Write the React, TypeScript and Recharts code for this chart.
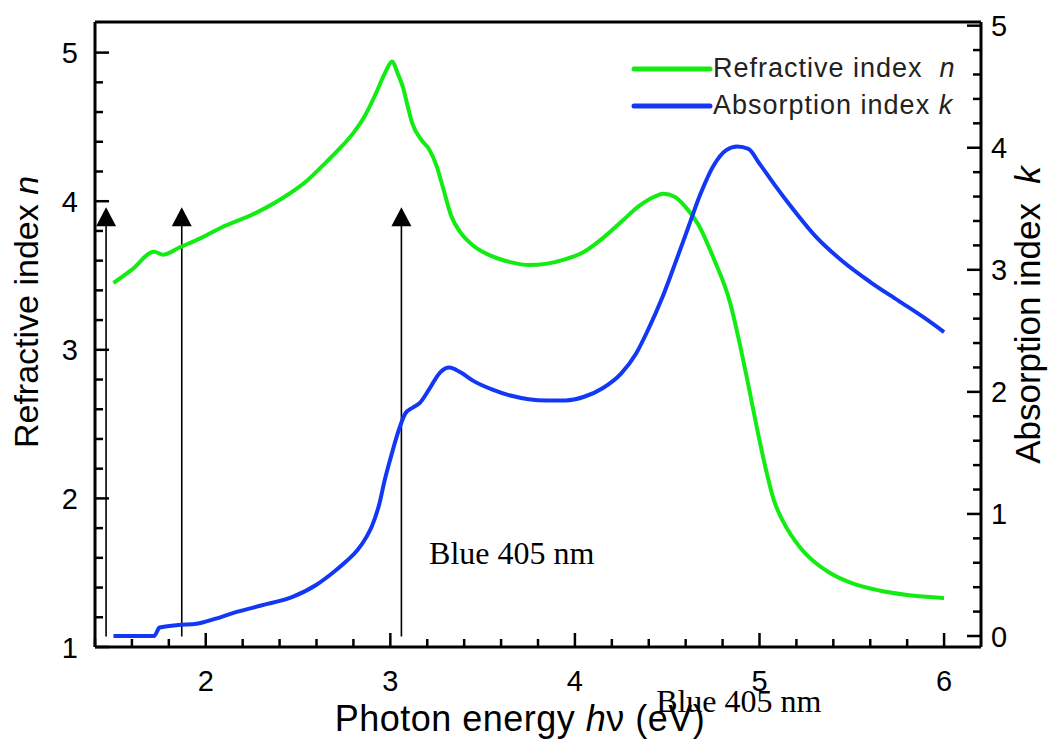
import React from "react";
import { ComposedChart, Line, XAxis, YAxis, ReferenceLine, ReferenceDot, Legend } from "recharts";

// photon energy (eV) and refractive index n
const energyN = [
  1.5, 1.6, 1.72, 1.77, 1.86, 1.97, 2.08, 2.27, 2.44, 2.55, 2.65, 2.73, 2.8, 2.86, 2.92, 2.97, 3.01,
  3.04, 3.07, 3.09, 3.12, 3.17, 3.21, 3.25, 3.29, 3.33, 3.38, 3.45, 3.55, 3.65, 3.75, 3.85, 3.95,
  4.05, 4.15, 4.25, 4.35, 4.43, 4.48, 4.54, 4.6, 4.67, 4.75, 4.84, 4.9, 4.94, 4.99, 5.03, 5.08,
  5.13, 5.22, 5.3, 5.38, 5.5, 5.65, 5.8, 6.0,
];
const refractiveN = [
  3.45, 3.54, 3.66, 3.64, 3.69, 3.75, 3.82, 3.92, 4.04, 4.14, 4.26, 4.36, 4.46, 4.57, 4.72, 4.86, 4.94,
  4.86, 4.76, 4.66, 4.52, 4.41, 4.35, 4.24, 4.07, 3.9, 3.79, 3.7, 3.63, 3.59, 3.57, 3.58, 3.61,
  3.66, 3.75, 3.86, 3.97, 4.03, 4.05, 4.03, 3.96, 3.84, 3.62, 3.32, 3.0, 2.76, 2.45, 2.22, 1.98,
  1.84, 1.67, 1.57, 1.5, 1.43, 1.38, 1.35, 1.33,
];

// photon energy (eV) and absorption index k
const energyK = [
  1.5, 1.72, 1.75, 1.85, 1.95, 2.05, 2.15, 2.3, 2.47, 2.6, 2.69, 2.76, 2.82, 2.87, 2.9, 2.94, 2.97,
  3.0, 3.04, 3.08, 3.12, 3.16, 3.21, 3.27, 3.32, 3.38, 3.45, 3.55, 3.65, 3.75, 3.85, 3.95, 4.05,
  4.15, 4.25, 4.33, 4.4, 4.47, 4.54, 4.61, 4.68, 4.75, 4.82, 4.88, 4.94, 5.0, 5.08, 5.18, 5.3,
  5.45, 5.6, 5.75, 5.9, 6.0,
];
const absorptionK = [
  0.0, 0.0, 0.07, 0.09, 0.1, 0.14, 0.19, 0.25, 0.32, 0.42, 0.52, 0.61, 0.7, 0.81, 0.9, 1.08, 1.28,
  1.45, 1.66, 1.82, 1.87, 1.91, 2.02, 2.16, 2.2, 2.16, 2.09, 2.02, 1.97, 1.94, 1.93, 1.93, 1.96,
  2.03, 2.15, 2.31, 2.52, 2.76, 3.04, 3.33, 3.62, 3.85, 3.98, 4.01, 3.99, 3.87, 3.7, 3.5, 3.28,
  3.07, 2.9, 2.75, 2.6, 2.49,
];

const xTicks = [
  1.4, 1.6, 1.8, 2, 2.2, 2.4, 2.6, 2.8, 3, 3.2, 3.4, 3.6, 3.8, 4, 4.2, 4.4, 4.6, 4.8, 5, 5.2, 5.4,
  5.6, 5.8, 6,
];
const nTicks = [1, 1.2, 1.4, 1.6, 1.8, 2, 2.2, 2.4, 2.6, 2.8, 3, 3.2, 3.4, 3.6, 3.8, 4, 4.2, 4.4, 4.6, 4.8, 5];
const kTicks = [0, 0.2, 0.4, 0.6, 0.8, 1, 1.2, 1.4, 1.6, 1.8, 2, 2.2, 2.4, 2.6, 2.8, 3, 3.2, 3.4, 3.6, 3.8, 4, 4.2, 4.4, 4.6, 4.8, 5];

// vertical arrows (energy, from n=base up to n=tip)
const arrowEnergies = [1.46, 1.87, 3.06];
const arrowBase = 1.07;
const arrowTip = 3.96;

// "Blue 405 nm" annotations
const noteEnergies = [3.21, 4.44];
const noteLevels = [1.56, 0.56];
const noteText = "Blue 405 nm";

const legendNames = ["Refractive index  ", "Absorption index "];
const legendSymbols = ["n", "k"];
const GREEN = "#12ec12";
const BLUE = "#1238f5";
const legendColors = [GREEN, BLUE];

const nData = energyN.map((e, i) => ({ e, n: refractiveN[i] }));
const kData = energyK.map((e, i) => ({ e, k: absorptionK[i] }));

const SANS = "'Liberation Sans', Arial, sans-serif";
const SERIF = "'Liberation Serif', 'Times New Roman', serif";
const TICK_FONT = 29;
const isMajor = (v: number) => Math.abs(v - Math.round(v)) < 1e-6;

const BottomTick = (p: any) => {
  const v = p.payload.value;
  const major = isMajor(v);
  return (
    <g>
      <line x1={p.x} x2={p.x} y1={p.y} y2={p.y - (major ? 14 : 8)} stroke="#000" strokeWidth={2.5} />
      {major && (
        <text x={p.x} y={p.y + 44} textAnchor="middle" fontSize={TICK_FONT} fontFamily={SANS} fill="#000">
          {v}
        </text>
      )}
    </g>
  );
};

const TopTick = (p: any) => {
  const major = isMajor(p.payload.value);
  return <line x1={p.x} x2={p.x} y1={p.y} y2={p.y + (major ? 14 : 8)} stroke="#000" strokeWidth={2.5} />;
};

const LeftTick = (p: any) => {
  const v = p.payload.value;
  const major = isMajor(v);
  return (
    <g>
      <line x1={p.x} x2={p.x + (major ? 14 : 8)} y1={p.y} y2={p.y} stroke="#000" strokeWidth={2.5} />
      {major && (
        <text x={p.x - 17} y={p.y + 10.5} textAnchor="end" fontSize={TICK_FONT} fontFamily={SANS} fill="#000">
          {v}
        </text>
      )}
    </g>
  );
};

const RightTick = (p: any) => {
  const v = p.payload.value;
  const major = isMajor(v);
  return (
    <g>
      <line x1={p.x} x2={p.x - (major ? 14 : 8)} y1={p.y} y2={p.y} stroke="#000" strokeWidth={2.5} />
      {major && (
        <text x={p.x + 10} y={p.y + 10.5} textAnchor="start" fontSize={TICK_FONT} fontFamily={SANS} fill="#000">
          {v}
        </text>
      )}
    </g>
  );
};

const XTitle = (p: any) => {
  const vb = p.viewBox;
  return (
    <text x={vb.x + 425} y={vb.y + 84} textAnchor="middle" fontSize={36} letterSpacing={0.5} fontFamily={SANS} fill="#000">
      Photon energy <tspan fontStyle="italic">h</tspan>ν (eV)
    </text>
  );
};

const LeftTitle = (p: any) => {
  const vb = p.viewBox;
  const cx = vb.x + 38;
  const cy = vb.y + 290;
  return (
    <text x={cx} y={cy} transform={`rotate(-90, ${cx}, ${cy})`} textAnchor="middle" fontSize={34} fontFamily={SANS} fill="#000">
      Refractive index <tspan fontStyle="italic">n</tspan>
    </text>
  );
};

const RightTitle = (p: any) => {
  const vb = p.viewBox;
  const cx = vb.x + 59;
  const cy = vb.y + 293;
  return (
    <text x={cx} y={cy} transform={`rotate(-90, ${cx}, ${cy})`} textAnchor="middle" fontSize={35} fontFamily={SANS} fill="#000" style={{ whiteSpace: "pre" }}>
      {"Absorption index  "}<tspan fontStyle="italic">k</tspan>
    </text>
  );
};

const ArrowShape = (p: any) => {
  const { x1, y1, x2, y2 } = p;
  return (
    <g>
      <line x1={x1} y1={y1} x2={x2} y2={y2 + 4} stroke="#000" strokeWidth={1.6} />
      <polygon points={`${x2},${y2} ${x2 - 10},${y2 + 19} ${x2 + 10},${y2 + 19}`} fill="#000" />
    </g>
  );
};

const NoteShape = (p: any) => (
  <text x={p.cx} y={p.cy} fontSize={32} fontFamily={SERIF} fill="#000">
    {noteText}
  </text>
);

const LegendBox = () => (
  <div style={{ fontFamily: SANS, fontSize: 27, letterSpacing: 1, color: "#222" }}>
    {legendNames.map((name, i) => (
      <div key={name} style={{ display: "flex", alignItems: "center", height: 37 }}>
        <svg width={82} height={10}>
          <line x1={3} x2={79} y1={5} y2={5} stroke={legendColors[i]} strokeWidth={5} strokeLinecap="round" />
        </svg>
        <span style={{ whiteSpace: "pre" }}>{name}</span>
        <i>{legendSymbols[i]}</i>
      </div>
    ))}
  </div>
);

const App = () => {
  return (
    <div style={{ position: "absolute", left: 0, top: 0, width: 1053, height: 742, background: "#fff" }}>
      <ComposedChart width={1053} height={742} margin={{ top: 0, right: 0, bottom: 0, left: 0 }}>
        <XAxis
          xAxisId="bottom"
          dataKey="e"
          type="number"
          domain={[1.4, 6.2]}
          ticks={xTicks}
          interval={0}
          height={95}
          tickSize={0}
          tickMargin={0}
          tick={BottomTick}
          axisLine={{ stroke: "#000", strokeWidth: 3 }}
          allowDataOverflow
          label={XTitle}
        />
        <XAxis
          xAxisId="top"
          orientation="top"
          type="number"
          domain={[1.4, 6.2]}
          ticks={xTicks}
          interval={0}
          height={22}
          tickSize={0}
          tickMargin={0}
          tick={TopTick}
          axisLine={{ stroke: "#000", strokeWidth: 3 }}
          allowDataOverflow
        />
        <YAxis
          yAxisId="left"
          type="number"
          domain={[1.0, 5.206]}
          ticks={nTicks}
          interval={0}
          width={95}
          tickSize={0}
          tickMargin={0}
          tick={LeftTick}
          axisLine={{ stroke: "#000", strokeWidth: 3 }}
          allowDataOverflow
          label={LeftTitle}
        />
        <YAxis
          yAxisId="right"
          orientation="right"
          type="number"
          domain={[-0.09, 5.03]}
          ticks={kTicks}
          interval={0}
          width={72}
          tickSize={0}
          tickMargin={0}
          tick={RightTick}
          axisLine={{ stroke: "#000", strokeWidth: 3 }}
          allowDataOverflow
          label={RightTitle}
        />
        <Legend
          layout="vertical"
          align="center"
          verticalAlign="middle"
          content={LegendBox}
          wrapperStyle={{ left: 631, top: 50, width: 380, height: 74 }}
        />
        {arrowEnergies.map((e) => (
          <ReferenceLine
            key={e}
            xAxisId="bottom"
            yAxisId="left"
            segment={[
              { x: e, y: arrowBase },
              { x: e, y: arrowTip },
            ]}
            shape={ArrowShape}
          />
        ))}
        <Line
          xAxisId="bottom"
          yAxisId="left"
          data={nData}
          dataKey="n"
          type="monotone"
          stroke={GREEN}
          strokeWidth={4}
          dot={false}
          isAnimationActive={false}
        />
        <Line
          xAxisId="bottom"
          yAxisId="right"
          data={kData}
          dataKey="k"
          type="monotone"
          stroke={BLUE}
          strokeWidth={4}
          dot={false}
          isAnimationActive={false}
        />
        {noteEnergies.map((e, i) => (
          <ReferenceDot
            key={e}
            xAxisId="bottom"
            yAxisId="left"
            x={e}
            y={noteLevels[i]}
            ifOverflow="visible"
            shape={NoteShape}
          />
        ))}
      </ComposedChart>
    </div>
  );
};

export default App;
